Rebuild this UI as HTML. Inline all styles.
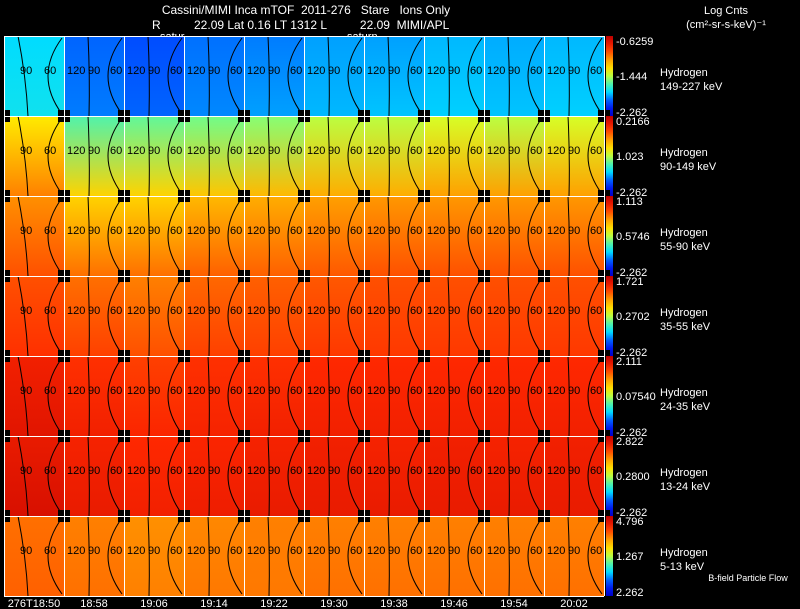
<!DOCTYPE html>
<html><head><meta charset="utf-8">
<style>
html,body{margin:0;padding:0;background:#000;}
svg{display:block;}
text{font-family:"Liberation Sans",sans-serif;}
</style></head>
<body>
<svg id="chart" width="800" height="609" viewBox="0 0 800 609">
<rect width="800" height="609" fill="#000"/>
<g>
<text x="306" y="14" fill="#fff" font-size="12" text-anchor="middle" xml:space="preserve">Cassini/MIMI Inca mTOF  2011-276   Stare   Ions Only</text>
<text x="152" y="29" fill="#fff" font-size="12" xml:space="preserve">R          22.09 Lat 0.16 LT 1312 L          22.09  MIMI/APL</text>
<text x="160" y="40" fill="#fff" font-size="11">satur</text>
<text x="347" y="40" fill="#fff" font-size="11">saturn</text>
<text x="726" y="14" fill="#fff" font-size="11" text-anchor="middle">Log Cnts</text>
<text x="726" y="28" fill="#fff" font-size="11" text-anchor="middle">(cm²-sr-s-keV)⁻¹</text>
<text x="748" y="581" fill="#fff" font-size="9" text-anchor="middle">B-field Particle Flow</text>
</g>
<g id="panels"></g>
</svg>
<script>
// Panel mean levels (0 = bottom/blue of colorbar, 1 = top/red), per energy row, per time column
const times = ["276T18:50","18:58","19:06","19:14","19:22","19:30","19:38","19:46","19:54","20:02"];
const energies = ["149-227 keV","90-149 keV","55-90 keV","35-55 keV","24-35 keV","13-24 keV","5-13 keV"];
const levelsTop = [
 [0.30,0.20,0.18,0.21,0.22,0.25,0.25,0.27,0.26,0.27],
 [0.58,0.40,0.42,0.44,0.46,0.50,0.50,0.52,0.50,0.52],
 [0.72,0.62,0.62,0.66,0.68,0.70,0.71,0.71,0.71,0.71],
 [0.80,0.76,0.74,0.77,0.78,0.79,0.80,0.80,0.80,0.80],
 [0.88,0.84,0.82,0.84,0.84,0.85,0.85,0.85,0.85,0.85],
 [0.90,0.87,0.85,0.86,0.87,0.88,0.87,0.88,0.87,0.88],
 [0.76,0.74,0.72,0.73,0.74,0.74,0.74,0.74,0.74,0.74]
];
const levelsBottom = [
 [0.32,0.22,0.20,0.23,0.25,0.27,0.28,0.29,0.28,0.29],
 [0.74,0.62,0.62,0.64,0.66,0.68,0.68,0.70,0.70,0.70],
 [0.80,0.76,0.76,0.78,0.78,0.79,0.80,0.80,0.80,0.80],
 [0.84,0.82,0.80,0.82,0.82,0.83,0.83,0.83,0.83,0.83],
 [0.92,0.88,0.86,0.87,0.88,0.88,0.88,0.88,0.88,0.88],
 [0.94,0.90,0.88,0.89,0.90,0.90,0.90,0.90,0.90,0.90],
 [0.78,0.76,0.74,0.75,0.75,0.76,0.76,0.76,0.76,0.76]
];
const cbTop = ["-0.6259","0.2166","1.113","1.721","2.111","2.822","4.796"];
const cbMid = ["-1.444","1.023","0.5746","0.2702","0.07540","0.2800","1.267"];
const cbBot = ["-2.262","-2.262","-2.262","-2.262","-2.262","-2.262","2.262"];

const X0=4, PW=60, Y0=36, PH=80;
const xPos = i => X0 + i*PW;
const yPos = r => Y0 + r*PH;
function jet(v){
  v=Math.max(0,Math.min(1,v));
  const stops=[[0,[0,0,200]],[0.15,[0,40,255]],[0.3,[0,220,255]],[0.45,[120,255,130]],[0.55,[255,255,0]],[0.7,[255,160,0]],[0.85,[255,40,0]],[1,[190,0,0]]];
  for(let k=1;k<stops.length;k++){ if(v<=stops[k][0]){const a=stops[k-1],b=stops[k];const t=(v-a[0])/(b[0]-a[0]);
    return `rgb(${a[1].map((c,j)=>Math.round(c+(b[1][j]-c)*t)).join(',')})`;}}
  return 'rgb(190,0,0)';
}
const NS='http://www.w3.org/2000/svg';
const svg=document.getElementById('chart');
const g=document.getElementById('panels');
const defs=document.createElementNS(NS,'defs'); svg.insertBefore(defs,svg.firstChild);
function mk(tag,attrs,parent){const e=document.createElementNS(NS,tag);for(const k in attrs)e.setAttribute(k,attrs[k]);(parent||g).appendChild(e);return e;}

const cg=mk('linearGradient',{id:'cbg',x1:0,y1:1,x2:0,y2:0},defs);
for(let k=0;k<=10;k++) mk('stop',{offset:k/10,'stop-color':jet(k/10)},cg);

energies.forEach((en,r)=>{
  times.forEach((t,i)=>{
    const gid='pg'+r+'_'+i;
    const lg=mk('linearGradient',{id:gid,x1:0,y1:0,x2:0,y2:1},defs);
    mk('stop',{offset:0,'stop-color':jet(levelsTop[r][i])},lg);
    mk('stop',{offset:1,'stop-color':jet(levelsBottom[r][i])},lg);
    const x=xPos(i), y=yPos(r);
    const p=mk('rect',{x:x,y:y,width:PW,height:PH,fill:`url(#${gid})`});
    
    
    const c1=mk('path',{d:`M${x+(i?24:14)} ${y} Q${x+(i?26:22)} ${y+40} ${x+(i?25:24)} ${y+80}`,stroke:'#000','stroke-width':1,fill:'none'});
    
    
    const c2=mk('path',{d:`M${x+58} ${y+2} Q${x+30} ${y+40} ${x+58} ${y+78}`,stroke:'#000','stroke-width':1,fill:'none'});
    
    
    const labs = i? [["120",x+3],["90",x+24],["60",x+46]] : [["90",x+16],["60",x+40]];
    labs.forEach(l=>{const tx=mk('text',{x:l[1],y:y+38,'font-size':11,fill:'#000'});tx.textContent=l[0];
      
      });
  });
  if(r>=1){
    for(let i=0;i<=10;i++){
      const x=xPos(i), y=yPos(r);
      const b=mk('rect',{x:x-6,y:y-6,width:12,height:12,fill:'#000'});
      
      
    }
  }
  const y=yPos(r);
  const cb=mk('rect',{x:606,y:y,width:7,height:PH,fill:'url(#cbg)'});
  
  
  [[cbTop[r],y+9],[cbMid[r],y+44],[cbBot[r],y+PH]].forEach(v=>{
    const tx=mk('text',{x:616,y:v[1],'font-size':11,fill:'#fff'});tx.textContent=v[0];
    
    
  });
  const h=mk('text',{x:660,y:y+40,'font-size':11,fill:'#fff'});h.textContent='Hydrogen';
  
  
  const e=mk('text',{x:660,y:y+54,'font-size':11,fill:'#fff'});e.textContent=en;
  
  
});
for(let i=0;i<=10;i++){const l=mk('line',{x1:xPos(i)+0.5,y1:Y0,x2:xPos(i)+0.5,y2:Y0+7*PH,stroke:'#fff','stroke-width':1});
  
  }
for(let r=0;r<=7;r++){const l=mk('line',{x1:X0,y1:yPos(r)+0.5,x2:X0+10*PW,y2:yPos(r)+0.5,stroke:'#fff','stroke-width':1});
  
  }
times.forEach((t,i)=>{
  const tx=mk('text',{x:i? xPos(i)+PW/2 : xPos(0)+30,y:607,'font-size':11,fill:'#fff','text-anchor':'middle'});tx.textContent=t;
  
  
});
</script>
</body></html>
